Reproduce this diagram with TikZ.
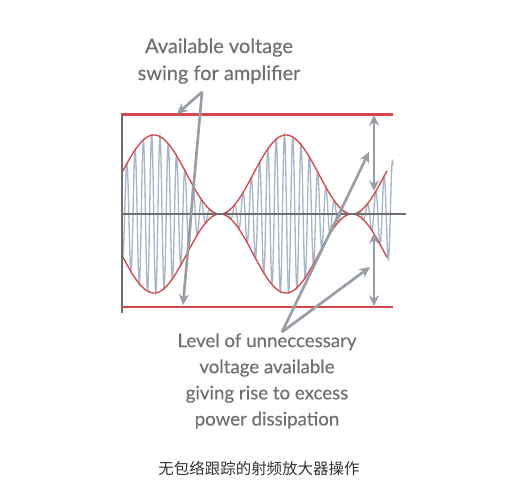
\documentclass[tikz,border=0pt]{standalone}
\usepackage{fontspec}
\setmainfont{Lato}
\newfontfamily\notefont[FakeBold=0.35]{Lato}
\newfontfamily\cjkfont{Noto Sans CJK SC}
\usetikzlibrary{arrows.meta}

\definecolor{axisgray}{RGB}{110,110,112}
\definecolor{limitred}{RGB}{214,70,72}
\definecolor{carrierblue}{RGB}{168,182,200}
\definecolor{pointergray}{RGB}{152,158,166}
\definecolor{labelgray}{RGB}{112,112,114}

\tikzset{
  pointer/.style={draw=pointergray, line width=2pt, -{Stealth[length=8pt,width=7.5pt,inset=2.5pt]}},
  twoway/.style={draw=pointergray, line width=2pt, {Stealth[length=8pt,width=7.5pt,inset=2.5pt]}-{Stealth[length=8pt,width=7.5pt,inset=2.5pt]}},
  note/.style={text=labelgray, align=center, inner sep=0.75pt}
}

\begin{document}
\begin{tikzpicture}[x=0.75pt,y=0.75pt,yscale=-1,xscale=1]
\useasboundingbox (0,0) rectangle (524,503);

% carrier
\draw [carrierblue, line width=1pt] plot [domain=122:393, samples=1100, smooth] (\x,{214-79*(cos(1.3636*(\x-154)))^2*sin(43.373*(\x-149.6))});
% envelope
\draw [limitred, line width=1pt] plot [domain=122:387, samples=200, smooth] (\x,{214-79*(cos(1.3636*(\x-154)))^2});
\draw [limitred, line width=1pt] plot [domain=122:387, samples=200, smooth] (\x,{214+79*(cos(1.3636*(\x-154)))^2});

% axes
\draw [axisgray, line width=1.3pt] (122,113) -- (122,313);
\draw [axisgray, line width=1.3pt] (122,214) -- (406,214);

% limit lines
\draw [limitred, line width=1.6pt] (122,114.5) -- (393,114.5);
\draw [limitred, line width=1.6pt] (122,307) -- (393,307);

% Text Node
\node [note, font=\notefont\fontsize{15}{20.3}\selectfont] (avail) at (219,61) {Available voltage\\swing for amplifier};
% Text Node
\node [note, font=\notefont\fontsize{14}{19.6}\selectfont] (level) at (267,381) {Level of unneccessary\\voltage available\\giving rise to excess\\power dissipation};
% Text Node
\node [text=black!80, font=\cjkfont\fontsize{11.6}{14}\selectfont, inner sep=0.75pt] (caption) at (259,469) {无包络跟踪的射频放大器操作};

\coordinate (jA) at (202,92);
\coordinate (tTop) at (177,114);
\coordinate (tBot) at (183,305);
\coordinate (jB) at (282,332);
\coordinate (tUp) at (369,152);
\coordinate (tLow) at (370,267);
\coordinate (dA1) at (374,115);
\coordinate (dA2) at (374,191);
\coordinate (dB1) at (374,233);
\coordinate (dB2) at (374,306);

% pointers
\draw [pointer] (jA) -- (tTop);
\draw [pointer] (jA) -- (tBot);
\draw [pointer] (jB) -- (tUp);
\draw [pointer] (jB) -- (tLow);
\draw [twoway] (dA1) -- (dA2);
\draw [twoway] (dB1) -- (dB2);

\end{tikzpicture}
\end{document}
